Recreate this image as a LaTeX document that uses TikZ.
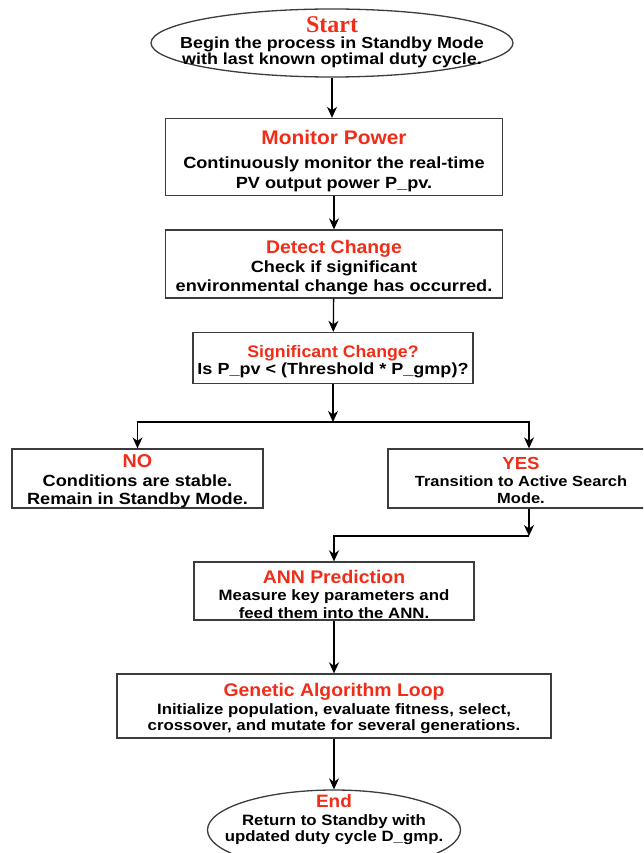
\documentclass[tikz,border=0pt]{standalone}
\usepackage{fontspec}
\setmainfont{Liberation Sans}[FakeStretch=1.12]
\newfontfamily\ttlfam{Liberation Sans}[FakeStretch=1.06]
\newfontfamily\serifbf{Liberation Serif}
\usetikzlibrary{shapes.geometric,arrows.meta,calc}
\definecolor{titlered}{RGB}{240,45,25}
\definecolor{boxgray}{RGB}{60,60,60}
% red heading, optional strut pushes the text block down
\newcommand{\ttl}[3][0pt]{{\ttlfam\color{titlered}\fontsize{#2}{#2}\selectfont\rule{0pt}{#1}#3}}
\newcommand{\bodyfont}[2]{\bfseries\fontsize{#1}{#2}\selectfont}

\begin{document}
\begin{tikzpicture}[x=1pt,y=-1pt,
  box/.style={draw=boxgray,line width=1.3pt,fill=white,align=center,inner sep=0pt},
  oval/.style={draw=boxgray,line width=1.3pt,ellipse,inner sep=0pt},
  txt/.style={align=center,inner sep=0pt},
  flow/.style={-{Stealth[length=11pt,width=10pt,inset=3.5pt]},line width=1.3pt}]
  \clip (0,0) rectangle (643,853);

  % start / end ovals
  \node[oval,minimum width=362,minimum height=68] (start) at (332,43) {};
  \node[txt,font=\bodyfont{16}{15.5}] (starttxt) at ($(start)+(0,-1)$)
    {{\serifbf\color{titlered}\fontsize{24}{24}\selectfont Start}\\[1pt] Begin the process in Standby Mode\\ with last known optimal duty cycle.};
  \node[oval,minimum width=253,minimum height=80] (end) at (334,830) {};
  \node[txt,font=\bodyfont{15}{16}] (endtxt) at ($(end)+(0,-10)$)
    {\ttl{17.9}{End}\\[2pt] Return to Standby with\\ updated duty cycle D\_gmp.};

  % process boxes
  \node[box,minimum width=337,minimum height=77,font=\bodyfont{16.2}{20}] (mon) at (334,157)
    {\ttl[21.4pt]{19.7}{Monitor Power}\\[4pt] Continuously monitor the real-time\\ PV output power P\_pv.};
  \node[box,minimum width=337,minimum height=68,font=\bodyfont{16.2}{19}] (det) at (334,264)
    {\ttl[20.4pt]{18.3}{Detect Change}\\ Check if significant\\ environmental change has occurred.};
  \node[box,minimum width=280,minimum height=51,font=\bodyfont{16.1}{19}] (sig) at (333,358)
    {\ttl[20.2pt]{16.7}{Significant Change?}\\[-2pt] Is P\_pv < (Threshold * P\_gmp)?};
  \node[box,minimum width=251,minimum height=59,font=\bodyfont{16.2}{18}] (no) at (137.5,478.5)
    {\ttl[17.4pt]{18.6}{NO}\\[1pt] Conditions are stable.\\ Remain in Standby Mode.};
  \node[box,minimum width=266,minimum height=59,font=\bodyfont{14.7}{16.5}] (yes) at (521,478.5)
    {\ttl[15.6pt]{17.5}{YES}\\[1pt] Transition to Active Search\\ Mode.};
  \node[box,minimum width=280,minimum height=58,font=\bodyfont{15}{17.5}] (ann) at (334,591)
    {\ttl[19.4pt]{18.3}{ANN Prediction}\\ Measure key parameters and\\ feed them into the ANN.};
  \node[box,minimum width=434,minimum height=64,font=\bodyfont{15}{16.5}] (ga) at (334,706)
    {\ttl[18.4pt]{18.3}{Genetic Algorithm Loop}\\[1.5pt] Initialize population, evaluate fitness, select,\\ crossover, and mutate for several generations.};

  % branch points
  \coordinate (split) at (333,422);
  \coordinate (join) at (529,536);

  % connectors
  \draw[flow] (start.south) -- (start.south |- mon.north);
  \draw[flow] (mon) -- (det);
  \draw[flow] (det) -- (sig);
  \draw[flow] (sig) -- (split);
  \draw[flow] (split) -| (no.north);
  \draw[flow] (split) -| ([xshift=8pt]yes.north);
  \draw[flow] ([xshift=8pt]yes.south) -- (join);
  \draw[flow] (join) -| (ann.north);
  \draw[flow] (ann) -- (ga);
  \draw[flow] (ga) -- (end.north);
\end{tikzpicture}
\end{document}
